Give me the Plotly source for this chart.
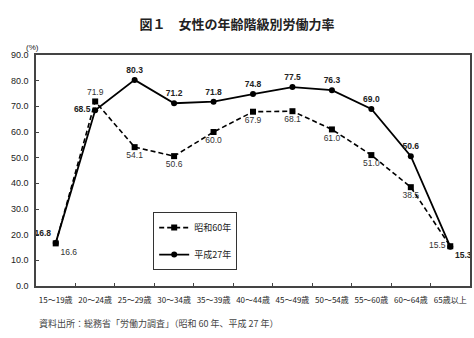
import plotly.graph_objects as go

categories = ["15～19歳", "20～24歳", "25～29歳", "30～34歳", "35～39歳", "40～44歳",
              "45～49歳", "50～54歳", "55～60歳", "60～64歳", "65歳以上"]
showa60 = [16.6, 71.9, 54.1, 50.6, 60.0, 67.9, 68.1, 61.0, 51.0, 38.5, 15.5]
heisei27 = [16.8, 68.5, 80.3, 71.2, 71.8, 74.8, 77.5, 76.3, 69.0, 50.6, 15.3]
y_ticks = [0, 10, 20, 30, 40, 50, 60, 70, 80, 90]

showa_pos = ["bottom right", "top center", "bottom center", "bottom center", "bottom center",
             "bottom center", "bottom center", "bottom center", "bottom center", "bottom center",
             "middle left"]
heisei_pos = ["top left", "middle left", "top center", "top center", "top center",
              "top center", "top center", "top center", "top center", "top center",
              "bottom right"]

FONT = "Arial, 'Liberation Sans', 'Noto Sans CJK JP'"
JP = "'Noto Sans CJK JP', sans-serif"

fig = go.Figure()
fig.add_trace(go.Scatter(
    x=categories, y=showa60, name="昭和60年", mode="lines+markers+text",
    line=dict(color="black", width=1.6, dash="5px,3px"),
    marker=dict(symbol="square", size=6, color="black"),
    text=[f"{v:.1f}" for v in showa60], textposition=showa_pos,
    textfont=dict(size=8.5, color="#333333", family=FONT),
    legendgroup="a", cliponaxis=False,
))
fig.add_trace(go.Scatter(
    x=categories, y=heisei27, name="平成27年", mode="lines+markers+text",
    line=dict(color="black", width=1.8),
    marker=dict(symbol="circle", size=6, color="black"),
    text=[f"<b>{v:.1f}</b>" for v in heisei27], textposition=heisei_pos,
    textfont=dict(size=8.5, color="#222222", family=FONT),
    legendgroup="b", cliponaxis=False,
))

fig.update_layout(
    width=474, height=338,
    margin=dict(l=36, r=4, t=55, b=52, autoexpand=False),
    paper_bgcolor="white", plot_bgcolor="white",
    font=dict(family=FONT, size=9, color="#222222"),
    title=dict(text="<b>図１　女性の年齢階級別労働力率</b>", x=0.5, xanchor="center",
               y=0.928, yanchor="middle", font=dict(family=JP, size=13, color="#222222")),
    showlegend=True,
    legend=dict(x=0.27, y=0.32, xanchor="left", yanchor="top",
                bordercolor="#333333", borderwidth=1, bgcolor="white",
                traceorder="grouped", tracegroupgap=8,
                font=dict(family=JP, size=9, color="#222222")),
    xaxis=dict(type="category", showgrid=False, showline=True, linecolor="#444444", linewidth=1.5,
               mirror=True, ticks="inside", ticklen=3, tickson="boundaries", tickcolor="#444444",
               tickangle=0, automargin=False, ticklabelstandoff=6,
               tickfont=dict(family=JP, size=8, color="#222222"), range=[-0.5, 10.5]),
    yaxis=dict(range=[0, 90], tickvals=y_ticks, tickformat=".1f", showgrid=False, showline=True,
               linecolor="#444444", linewidth=1.5, mirror=True, ticks="inside", ticklen=3,
               tickcolor="#444444", automargin=False, ticklabelstandoff=4,
               tickfont=dict(size=9, color="#222222")),
    annotations=[
        dict(text="(%)", x=0, y=0, xref="paper", yref="paper", showarrow=False,
             font=dict(size=8, color="#222222")),
        dict(text="資料出所：総務省「労働力調査」（昭和 60 年、平成 27 年）", x=0, y=0, xref="paper",
             yref="paper", showarrow=False, xanchor="left", yanchor="middle",
             font=dict(family=JP, size=9, color="#444444")),
    ],
)
# place annotations in pixel-equivalent paper coords
pw, ph = 474 - 36 - 4, 338 - 55 - 52
fig.layout.annotations[0].update(x=(24 - 36) / pw, y=(286 - 41) / ph)
fig.layout.annotations[1].update(x=(37 - 36) / pw, y=(286 - 323) / ph)

fig.write_html("out.html")
